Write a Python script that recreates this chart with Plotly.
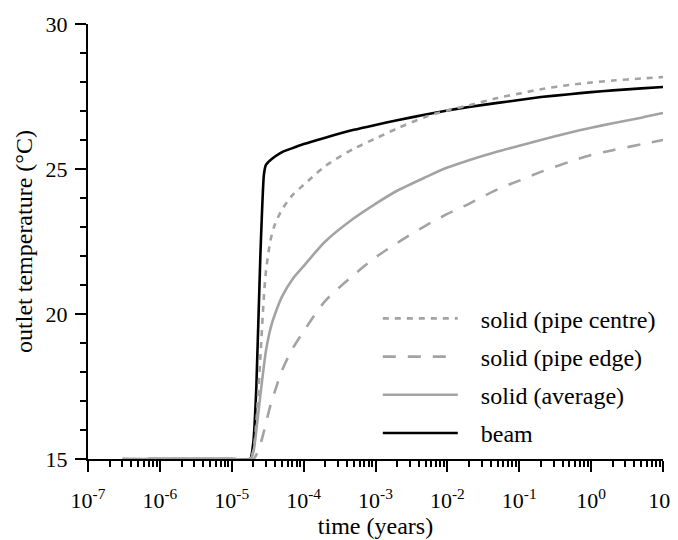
import plotly.graph_objects as go

# time in years
time = [3e-7, 1e-6, 1e-5, 1.8e-5, 2e-5, 2.2e-5, 2.5e-5, 2.8e-5, 3e-5, 3.5e-5, 4e-5, 5e-5, 7e-5,
        1e-4, 2e-4, 5e-4, 1e-3, 2e-3, 5e-3, 1e-2, 2e-2, 5e-2, 1e-1, 2e-1, 5e-1, 1, 2, 5, 10]

beam_time = [7e-7] + time[2:]
beam = [15.0, 15.0, 15.0, 15.6, 17.5, 22.0, 24.8, 25.15, 25.32, 25.43, 25.58, 25.72,
        25.86, 26.08, 26.35, 26.52, 26.68, 26.88, 27.02, 27.14, 27.28, 27.38, 27.48, 27.58,
        27.65, 27.71, 27.78, 27.83]

pipe_centre = [15.0, 15.0, 15.0, 15.0, 15.3, 16.3, 18.5, 20.6, 21.5, 22.6, 23.1, 23.6, 24.1,
               24.45, 25.1, 25.7, 26.05, 26.4, 26.8, 27.02, 27.2, 27.45, 27.6, 27.75, 27.9,
               27.98, 28.05, 28.12, 28.17]

pipe_edge = [15.0, 15.0, 15.0, 15.0, 15.0, 15.15, 15.5, 15.95, 16.25, 16.9, 17.35, 18.05, 18.8,
             19.4, 20.45, 21.35, 21.95, 22.45, 23.05, 23.45, 23.8, 24.3, 24.6, 24.9, 25.25,
             25.48, 25.65, 25.85, 26.0]

average = [15.0, 15.0, 15.0, 15.0, 15.25, 16.0, 17.2, 18.2, 18.75, 19.55, 20.0, 20.6, 21.2,
           21.65, 22.5, 23.3, 23.8, 24.25, 24.72, 25.05, 25.3, 25.6, 25.8, 26.0, 26.25,
           26.42, 26.58, 26.77, 26.93]

x_tickvals = [1e-7, 1e-6, 1e-5, 1e-4, 1e-3, 1e-2, 1e-1, 1e0, 1e1]
x_ticktext = ["10<sup>-7</sup>", "10<sup>-6</sup>", "10<sup>-5</sup>", "10<sup>-4</sup>",
              "10<sup>-3</sup>", "10<sup>-2</sup>", "10<sup>-1</sup>", "10<sup>0</sup>",
              "10<sup>1</sup>"]
y_tickvals = [15, 20, 25, 30]

GRAY = "#a3a3a3"
FONT = "Liberation Serif"
PAD = "\u00a0\u00a0\u00a0"

fig = go.Figure()
fig.add_trace(go.Scatter(x=beam_time, y=beam, mode="lines", name=PAD + "beam",
                         legendgroup="d", legendrank=4,
                         line=dict(color="black", width=2.6, shape="spline", smoothing=0.5)))
fig.add_trace(go.Scatter(x=time, y=average, mode="lines", name=PAD + "solid (average)",
                         legendgroup="c", legendrank=3,
                         line=dict(color=GRAY, width=2.6, shape="spline", smoothing=0.8)))
fig.add_trace(go.Scatter(x=time, y=pipe_edge, mode="lines", name=PAD + "solid (pipe edge)",
                         legendgroup="b", legendrank=2,
                         line=dict(color=GRAY, width=2.6, dash="13px,12px",
                                   shape="spline", smoothing=0.8)))
fig.add_trace(go.Scatter(x=time, y=pipe_centre, mode="lines", name=PAD + "solid (pipe centre)",
                         legendgroup="a", legendrank=1,
                         line=dict(color=GRAY, width=2.6, dash="6px,6px",
                                   shape="spline", smoothing=0.8)))

fig.update_layout(
    width=678, height=540,
    margin=dict(l=80, r=23, t=16, b=89),
    paper_bgcolor="white", plot_bgcolor="white",
    font=dict(family=FONT, size=22, color="black"),
    showlegend=True,
    legend=dict(x=0.504, y=0.374, xanchor="left", yanchor="top",
                traceorder="grouped", tracegroupgap=4, itemwidth=75,
                font=dict(family=FONT, size=24), bgcolor="rgba(0,0,0,0)"),
    xaxis=dict(type="log", range=[-7, 1], tickvals=x_tickvals, ticktext=x_ticktext,
               automargin=False, ticklabelstandoff=10,
               ticks="outside", ticklen=11, tickwidth=1.5, tickcolor="black",
               tickfont=dict(family=FONT, size=22),
               showline=True, linecolor="black", linewidth=2, showgrid=False, zeroline=False,
               minor=dict(ticks="outside", ticklen=6, tickwidth=1.5, tickcolor="black",
                          dtick="D1", showgrid=False),
               title=dict(text="time (years)", font=dict(family=FONT, size=24), standoff=4)),
    yaxis=dict(range=[15, 30], tickvals=y_tickvals, automargin=False, ticklabelstandoff=3,
               ticks="outside", ticklen=11, tickwidth=1.5, tickcolor="black",
               tickfont=dict(family=FONT, size=22),
               showline=True, linecolor="black", linewidth=2, showgrid=False, zeroline=False,
               minor=dict(ticks="outside", ticklen=6, tickwidth=1.5, tickcolor="black",
                          dtick=1, showgrid=False),
               title=dict(text="outlet temperature (°C)", font=dict(family=FONT, size=24),
                          standoff=6)),
)

fig.write_html("out.html")
